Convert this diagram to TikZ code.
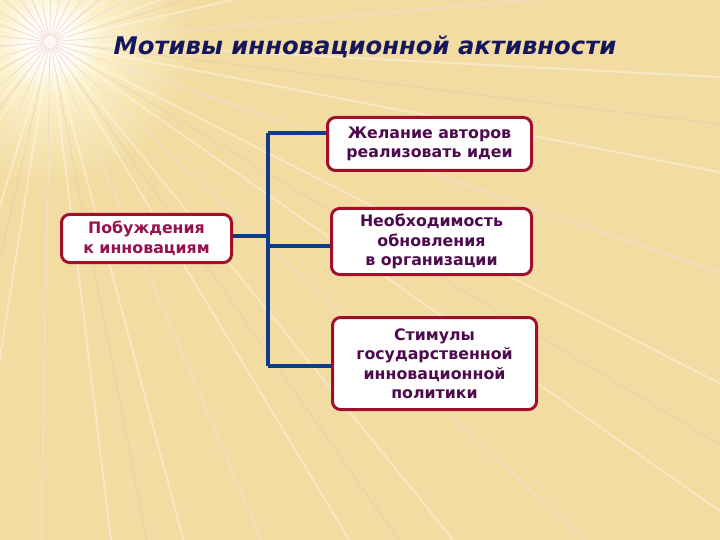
\documentclass[tikz,border=0pt]{standalone}
\usepackage{fontspec}
\setmainfont{DejaVu Sans}
\usetikzlibrary{shapes.geometric, arrows}
\definecolor{paper}{HTML}{F2DCA2}
\definecolor{glowyellow}{HTML}{FBF0C8}
\definecolor{raypink}{HTML}{EEC3B0}
\definecolor{boxred}{HTML}{A0102A}
\definecolor{linkblue}{HTML}{0B3C8E}
\definecolor{causetext}{HTML}{99104F}
\definecolor{motivetext}{HTML}{4E0A4E}
\definecolor{titleblue}{HTML}{16165E}
\pgfdeclareradialshading{glow}{\pgfpoint{0bp}{0bp}}{color(0bp)=(white); color(2bp)=(white); color(6bp)=(glowyellow); color(16bp)=(paper); color(50bp)=(paper)}
\tikzstyle{cause} = [rectangle, rounded corners = 8pt, minimum width = 170pt, minimum height = 48pt, inner sep = 0pt, text centered, align = center, draw = boxred, line width = 3pt, fill = white, text = causetext, font = \bfseries\fontsize{15.8}{19.5}\selectfont]
\tikzstyle{motive} = [cause, text = motivetext]
\tikzstyle{link} = [line width = 4pt, draw = linkblue]
\tikzstyle{heading} = [text = titleblue, font = \bfseries\itshape\fontsize{24.3}{27}\selectfont]

\begin{document}
\begin{tikzpicture}[x = 1pt, y = -1pt]
    % background
    \useasboundingbox (0,0) rectangle (720,540);
    \fill[paper] (0,0) rectangle (720,540);
    \begin{scope}
        \clip (0,0) rectangle (720,540);
        \shade[shading = glow] (50,42) circle (220);
        \foreach \a in {3,11,...,360}
            \draw[white, opacity = 0.35, line width = 2pt] (50,42) -- ++(\a:1000);
        \foreach \a in {7,19,...,360}
            \draw[raypink, opacity = 0.5, line width = 1pt] (50,42) -- ++(\a:1000);
        \fill[white, opacity = 0.8] (50,42) circle (6);
    \end{scope}

    % title
    \node(title)[heading] at (365,47){Мотивы инновационной активности};

    % boxes
    \node(urge)[cause, minimum width = 170pt, minimum height = 48pt] at (146.5,238.5){Побуждения\\к инновациям};
    \node(wish)[motive, minimum width = 204pt, minimum height = 53pt] at (429.5,144){Желание авторов\\реализовать идеи};
    \node(renew)[motive, minimum width = 200pt, minimum height = 66pt] at (431.5,241.5){Необходимость\\обновления\\в организации};
    \node(policy)[motive, minimum width = 204pt, minimum height = 92pt] at (434.5,363.5){Стимулы\\государственной\\инновационной\\политики};

    % connectors
    \coordinate(bartop) at (268,133);
    \coordinate(barbot) at (268,366);
    \draw[link](bartop)--(barbot);
    \draw[link]([yshift = 2.5pt]urge.east)--([yshift = 2.5pt]urge.east -| bartop);
    \draw[link](bartop)--(bartop -| wish.west);
    \draw[link]([yshift = -4.5pt]renew.west -| bartop)--([yshift = -4.5pt]renew.west);
    \draw[link](barbot)--(barbot -| policy.west);
\end{tikzpicture}
\end{document}
